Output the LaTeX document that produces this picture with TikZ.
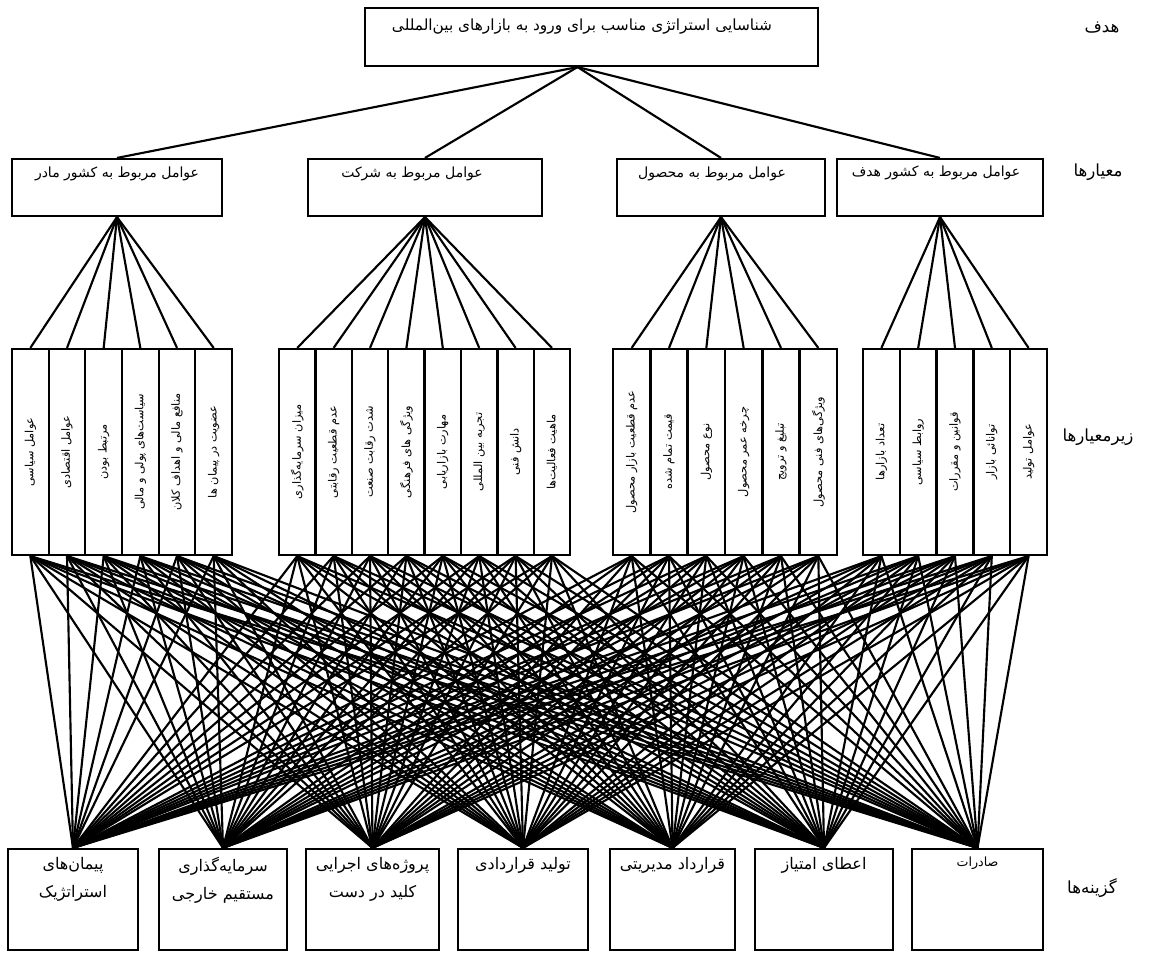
\documentclass[tikz,border=0pt]{standalone}
\usepackage{fontspec}
\newfontfamily\fa[Script=Arabic]{DejaVu Sans}
\TeXXeTstate=1
\newcommand\fat[1]{\beginR #1\endR}
\newdimen\upx \upx=0.75pt
\begin{document}
\begin{tikzpicture}[x=0.75pt,y=-0.75pt,
  box/.style={draw,line width=1.6pt,inner sep=0pt},
  lnk/.style={line width=1.6pt},
  boxtxt/.style={font=\fa\fontsize{10.5}{13}\selectfont,inner sep=0pt},
  subbox/.style={box,rotate=90,minimum width=206\upx,minimum height=36.7\upx,font=\fa\fontsize{8.5}{10}\selectfont},
  alttxt/.style={font=\fa\fontsize{12}{21}\selectfont,inner sep=0pt,align=center,anchor=north},
  sidelab/.style={font=\fa\fontsize{12.5}{15}\selectfont,inner sep=0pt}
]
\useasboundingbox (0,0) rectangle (1157,955);
% goal
\node[box,minimum width=453\upx,minimum height=58\upx] (g) at (591.5,37) {};
\node[boxtxt,font=\fa\fontsize{11.5}{14}\selectfont] (gt) at (582,27) {\fat{شناسایی استراتژی مناسب برای ورود به بازارهای بین‌المللی}};
% criteria
\node[box,minimum width=210\upx,minimum height=57\upx] (c1) at (117,187.5) {};
\node[box,minimum width=234\upx,minimum height=57\upx] (c2) at (425,187.5) {};
\node[box,minimum width=208\upx,minimum height=57\upx] (c3) at (721,187.5) {};
\node[box,minimum width=206\upx,minimum height=57\upx] (c4) at (940,187.5) {};
\node[boxtxt] (c1t) at (117,174) {\fat{عوامل مربوط به کشور مادر}};
\node[boxtxt] (c2t) at (412,174) {\fat{عوامل مربوط به شرکت}};
\node[boxtxt] (c3t) at (712,174) {\fat{عوامل مربوط به محصول}};
\node[boxtxt] (c4t) at (936,173) {\fat{عوامل مربوط به کشور هدف}};
% subcriteria
\foreach \t [count=\i from 0] in {عوامل سیاسی,عوامل اقتصادی,مرتبط بودن,سیاست‌های پولی و مالی,منافع مالی و اهداف کلان,عضویت در پیمان ها}{
  \pgfmathtruncatemacro\k{\i+1}
  \node[subbox] (s\k) at ({12+36.67*(\i+0.5)},452) {\fat{\t}};
}
\foreach \t [count=\i from 0] in {میزان سرمایه‌گذاری,عدم قطعیت رقابتی,شدت رقابت صنعت,ویژگی های فرهنگی,مهارت بازاریابی,تجربه بین المللی,دانش فنی,ماهیت فعالیت‌ها}{
  \pgfmathtruncatemacro\k{\i+7}
  \node[subbox] (s\k) at ({279+36.4*(\i+0.5)},452) {\fat{\t}};
}
\foreach \t [count=\i from 0] in {عدم قطعیت بازار محصول,قیمت تمام شده,نوع محصول,چرخه عمر محصول,تبلیغ و ترویج,ویژگی‌های فنی محصول}{
  \pgfmathtruncatemacro\k{\i+15}
  \node[subbox] (s\k) at ({613+37.33*(\i+0.5)},452) {\fat{\t}};
}
\foreach \t [count=\i from 0] in {تعداد بازارها,روابط سیاسی,قوانین و مقررات,توانائی بازار,عوامل تولید}{
  \pgfmathtruncatemacro\k{\i+21}
  \node[subbox] (s\k) at ({863+36.8*(\i+0.5)},452) {\fat{\t}};
}
% alternatives
\node[box,minimum width=130\upx,minimum height=101\upx] (a1) at (73,899.5) {};
\node[box,minimum width=128\upx,minimum height=101\upx] (a2) at (223,899.5) {};
\node[box,minimum width=133\upx,minimum height=101\upx] (a3) at (372.5,899.5) {};
\node[box,minimum width=130\upx,minimum height=101\upx] (a4) at (523,899.5) {};
\node[box,minimum width=125\upx,minimum height=101\upx] (a5) at (672.5,899.5) {};
\node[box,minimum width=138\upx,minimum height=101\upx] (a6) at (824,899.5) {};
\node[box,minimum width=131\upx,minimum height=101\upx] (a7) at (977.5,899.5) {};
\node[alttxt] (a1t) at (73,857) {\fat{پیمان‌های}\\\fat{استراتژیک}};
\node[alttxt] (a2t) at (223,857) {\fat{سرمایه‌گذاری}\\\fat{مستقیم خارجی}};
\node[alttxt] (a3t) at (372.5,857) {\fat{پروژه‌های اجرایی}\\\fat{کلید در دست}};
\node[alttxt] (a4t) at (523,857) {\fat{تولید قراردادی}};
\node[alttxt] (a5t) at (672.5,857) {\fat{قرارداد مدیریتی}};
\node[alttxt] (a6t) at (824,857) {\fat{اعطای امتیاز}};
\node[alttxt,font=\fa\fontsize{9.5}{12}\selectfont] (a7t) at (977.5,857) {\fat{صادرات}};
% side labels
\node[sidelab] (l1) at (1102,28) {\fat{هدف}};
\node[sidelab] (l2) at (1098,172) {\fat{معیارها}};
\node[sidelab] (l3) at (1098,437) {\fat{زیرمعیارها}};
\node[sidelab] (l4) at (1092,888) {\fat{گزینه‌ها}};
% connectors
\foreach \c in {c1,c2,c3,c4}
  \draw[lnk] ([xshift=-14\upx]g.south) -- (\c.north);
\foreach \k in {1,...,6} \draw[lnk] (c1.south) -- (s\k.east);
\foreach \k in {7,...,14} \draw[lnk] (c2.south) -- (s\k.east);
\foreach \k in {15,...,20} \draw[lnk] (c3.south) -- (s\k.east);
\foreach \k in {21,...,25} \draw[lnk] (c4.south) -- (s\k.east);
\foreach \k in {1,...,25}
  \foreach \a in {1,...,7}
    \draw[lnk] (s\k.west) -- (a\a.north);
\end{tikzpicture}
\end{document}
